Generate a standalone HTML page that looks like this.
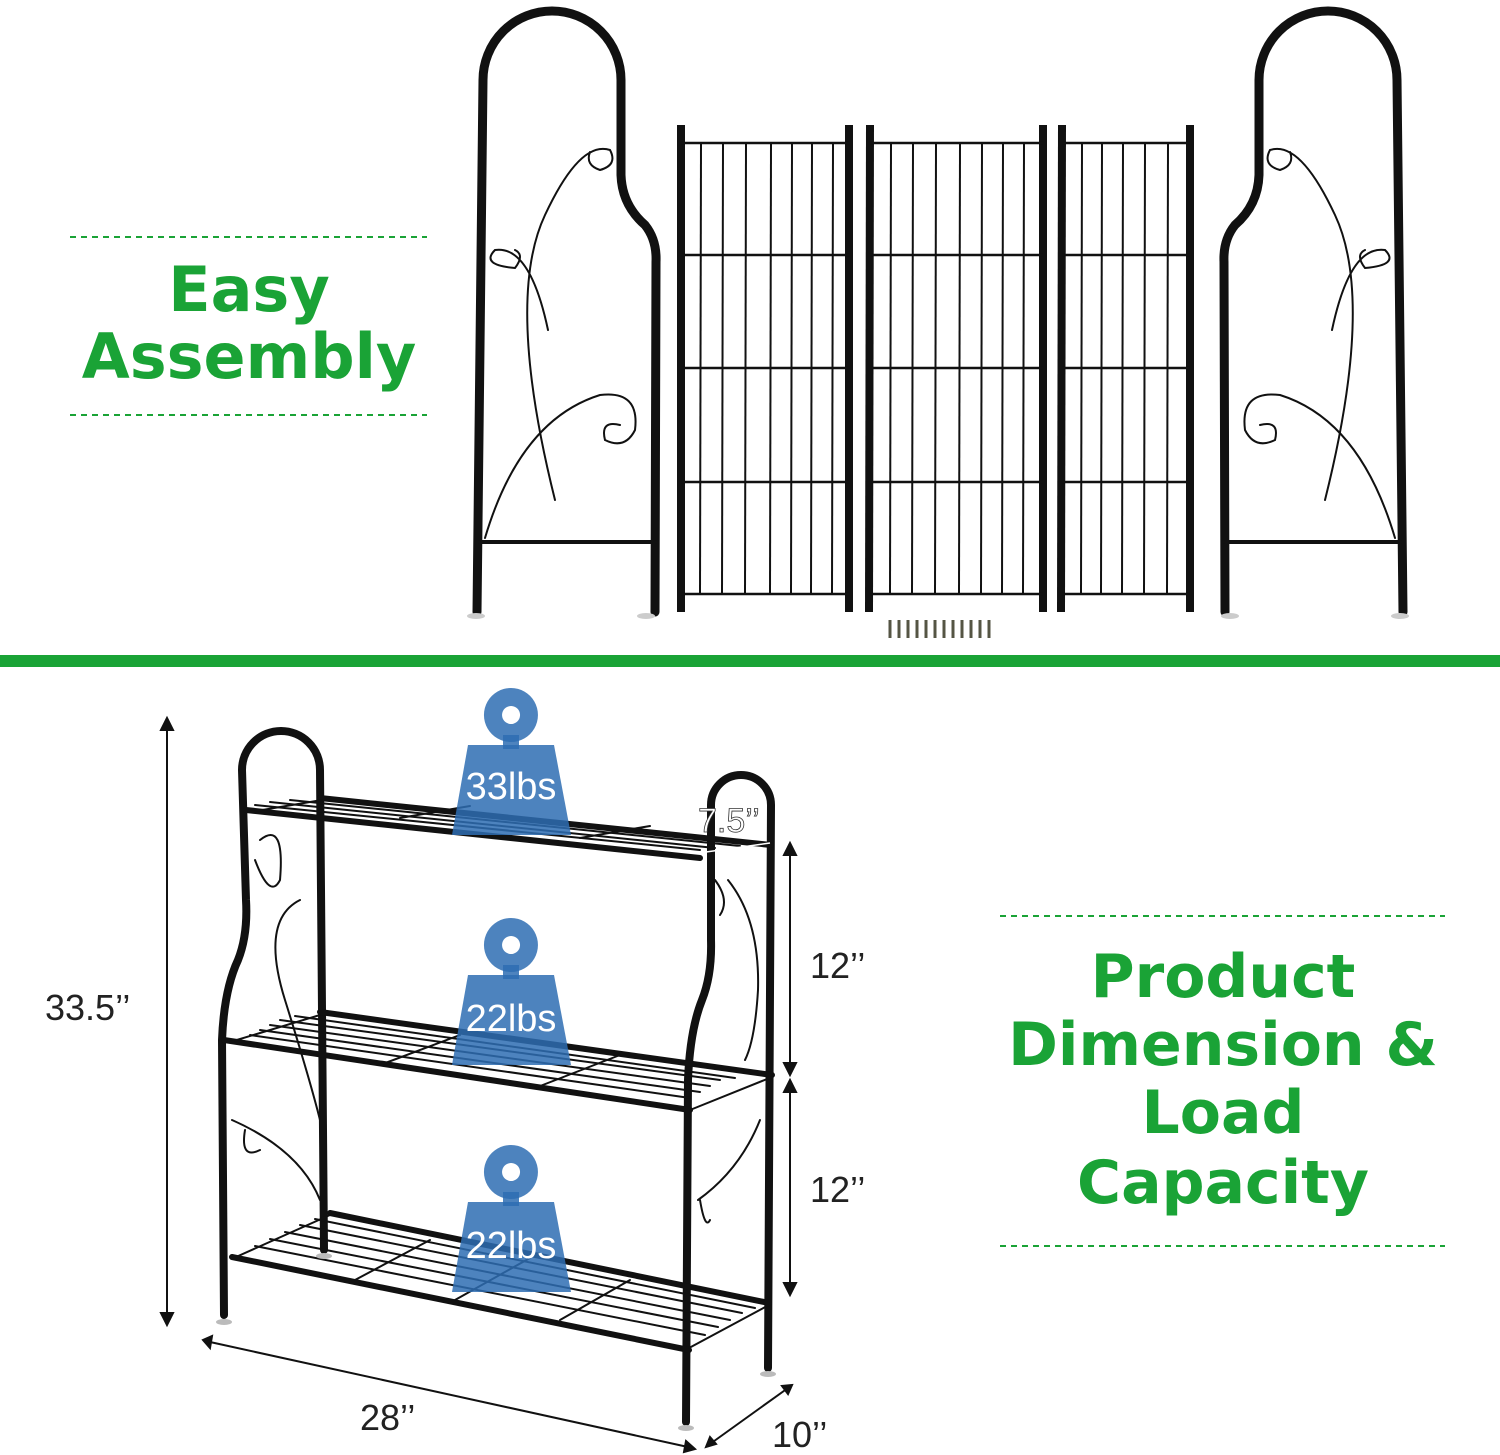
<!DOCTYPE html>
<html><head><meta charset="utf-8"><style>
html,body{margin:0;padding:0;background:#fff;}
svg{display:block;}
</style></head><body>
<svg width="1500" height="1455" viewBox="0 0 1500 1455" xmlns="http://www.w3.org/2000/svg">
<rect width="1500" height="1455" fill="#fff"/>
<rect x="0" y="655" width="1500" height="12" fill="#1aa336"/>
<line x1="70" y1="237" x2="427" y2="237" stroke="#1aa336" stroke-width="2" stroke-dasharray="6,5"/>
<line x1="70" y1="415" x2="427" y2="415" stroke="#1aa336" stroke-width="2" stroke-dasharray="6,5"/>
<g font-family="'DejaVu Sans','Liberation Sans',sans-serif" font-weight="bold" fill="#1aa336" text-anchor="middle">
<text x="249" y="311" font-size="62">Easy</text>
<text x="249" y="378" font-size="62">Assembly</text>
<text x="1223" y="997" font-size="60">Product</text>
<text x="1223" y="1065" font-size="60">Dimension &amp;</text>
<text x="1223" y="1133" font-size="60">Load</text>
<text x="1223" y="1203" font-size="60">Capacity</text>
</g>
<line x1="1000" y1="916" x2="1445" y2="916" stroke="#1aa336" stroke-width="2" stroke-dasharray="6,5"/>
<line x1="1000" y1="1246" x2="1445" y2="1246" stroke="#1aa336" stroke-width="2" stroke-dasharray="6,5"/>

<g fill="none" stroke="#111" stroke-linecap="round">
<path d="M477 612 L483 80 A69 69 0 0 1 621 80 L621 175 Q622 205 645 225 Q657 240 656 262 L655 612" stroke-width="9"/>
<line x1="480" y1="542" x2="655" y2="542" stroke-width="4"/>
<path d="M485 538 Q520 420 600 395 Q640 390 635 430 Q625 450 605 440 Q600 420 620 425" stroke-width="2"/>
<path d="M555 500 Q505 300 545 215 Q580 140 610 150 Q618 165 600 170 Q585 165 590 152 M548 330 Q530 245 495 250 Q480 265 515 268 Q525 255 515 250" stroke-width="2"/>
<path d="M1403 612 L1397 80 A69 69 0 0 0 1259 80 L1259 175 Q1258 205 1235 225 Q1223 240 1224 262 L1225 612" stroke-width="9"/>
<line x1="1400" y1="542" x2="1225" y2="542" stroke-width="4"/>
<path d="M1395 538 Q1360 420 1280 395 Q1240 390 1245 430 Q1255 450 1275 440 Q1280 420 1260 425" stroke-width="2"/>
<path d="M1325 500 Q1375 300 1335 215 Q1300 140 1270 150 Q1262 165 1280 170 Q1295 165 1290 152 M1332 330 Q1350 245 1385 250 Q1400 265 1365 268 Q1355 255 1365 250" stroke-width="2"/>
</g>
<g fill="#ccc"><ellipse cx="476" cy="616" rx="9" ry="3"/><ellipse cx="646" cy="616" rx="9" ry="3"/><ellipse cx="1230" cy="616" rx="9" ry="3"/><ellipse cx="1400" cy="616" rx="9" ry="3"/></g>

<g stroke="#111" fill="none">
<g>
<line x1="681" y1="125" x2="681" y2="612" stroke-width="8"/>
<line x1="849" y1="125" x2="849" y2="612" stroke-width="8"/>
<g stroke-width="2.5"><line x1="681" y1="143" x2="849" y2="143"/><line x1="681" y1="255" x2="849" y2="255"/><line x1="681" y1="368" x2="849" y2="368"/><line x1="681" y1="482" x2="849" y2="482"/><line x1="681" y1="594" x2="849" y2="594"/></g>
<g stroke-width="2"><line x1="701" y1="143" x2="700" y2="594"/><line x1="723" y1="143" x2="722" y2="594"/><line x1="746" y1="143" x2="745" y2="594"/><line x1="771" y1="143" x2="770" y2="594"/><line x1="792" y1="143" x2="791" y2="594"/><line x1="812" y1="143" x2="811" y2="594"/><line x1="833" y1="143" x2="832" y2="594"/></g>
</g>
<g>
<line x1="870" y1="125" x2="869" y2="612" stroke-width="8"/>
<line x1="1043" y1="125" x2="1043" y2="612" stroke-width="8"/>
<g stroke-width="2.5"><line x1="870" y1="143" x2="1043" y2="143"/><line x1="870" y1="255" x2="1043" y2="255"/><line x1="870" y1="368" x2="1043" y2="368"/><line x1="870" y1="482" x2="1043" y2="482"/><line x1="870" y1="594" x2="1043" y2="594"/></g>
<g stroke-width="2"><line x1="891" y1="143" x2="890" y2="594"/><line x1="913" y1="143" x2="912" y2="594"/><line x1="936" y1="143" x2="935" y2="594"/><line x1="960" y1="143" x2="959" y2="594"/><line x1="982" y1="143" x2="981" y2="594"/><line x1="1003" y1="143" x2="1002" y2="594"/><line x1="1024" y1="143" x2="1023" y2="594"/></g>
</g>
<g>
<line x1="1062" y1="125" x2="1061" y2="612" stroke-width="8"/>
<line x1="1190" y1="125" x2="1190" y2="612" stroke-width="8"/>
<g stroke-width="2.5"><line x1="1062" y1="143" x2="1190" y2="143"/><line x1="1062" y1="255" x2="1190" y2="255"/><line x1="1062" y1="368" x2="1190" y2="368"/><line x1="1062" y1="482" x2="1190" y2="482"/><line x1="1062" y1="594" x2="1190" y2="594"/></g>
<g stroke-width="2"><line x1="1082" y1="143" x2="1081" y2="594"/><line x1="1102" y1="143" x2="1101" y2="594"/><line x1="1123" y1="143" x2="1122" y2="594"/><line x1="1145" y1="143" x2="1144" y2="594"/><line x1="1168" y1="143" x2="1167" y2="594"/></g>
</g>
</g>
<g stroke="#554" stroke-width="3">
<line x1="890" y1="620" x2="890" y2="638"/><line x1="899" y1="620" x2="899" y2="638"/><line x1="908" y1="620" x2="908" y2="638"/><line x1="917" y1="620" x2="917" y2="638"/><line x1="926" y1="620" x2="926" y2="638"/><line x1="935" y1="620" x2="935" y2="638"/><line x1="944" y1="620" x2="944" y2="638"/><line x1="953" y1="620" x2="953" y2="638"/><line x1="962" y1="620" x2="962" y2="638"/><line x1="971" y1="620" x2="971" y2="638"/><line x1="980" y1="620" x2="980" y2="638"/><line x1="989" y1="620" x2="989" y2="638"/>
</g>

<!-- bottom: shelf -->
<g fill="none" stroke="#111" stroke-linecap="round">
<path d="M224 1315 L222 1040 Q224 990 238 960 Q248 935 246 900 L242 770 A39 39 0 0 1 320 770 L324 1250" stroke-width="8"/>
<path d="M686 1422 L688 1080 Q690 1030 702 1000 Q712 975 711 940 L711 805 A30 30 0 0 1 771 805 L768 1368" stroke-width="8"/>
<g stroke-width="6">
<line x1="246" y1="810" x2="700" y2="858"/><line x1="320" y1="798" x2="771" y2="845"/>
<line x1="224" y1="1040" x2="690" y2="1110"/><line x1="320" y1="1012" x2="772" y2="1075"/>
<line x1="232" y1="1257" x2="689" y2="1350"/><line x1="330" y1="1213" x2="769" y2="1303"/>
</g>
<g stroke-width="2">
<line x1="250" y1="812" x2="322" y2="800"/><line x1="400" y1="818" x2="470" y2="806"/><line x1="580" y1="838" x2="650" y2="826"/>
<line x1="230" y1="1042" x2="320" y2="1015"/><line x1="380" y1="1065" x2="460" y2="1035"/><line x1="535" y1="1088" x2="620" y2="1055"/><line x1="690" y1="1110" x2="772" y2="1077"/>
<path d="M250 1035 L690 1098 M260 1030 L700 1092 M270 1025 L710 1086 M280 1020 L720 1080 M295 1016 L735 1078"/>
<line x1="236" y1="1257" x2="330" y2="1215"/><line x1="355" y1="1280" x2="430" y2="1240"/><line x1="455" y1="1300" x2="530" y2="1258"/><line x1="560" y1="1320" x2="630" y2="1280"/><line x1="689" y1="1348" x2="769" y2="1305"/>
<path d="M255 1246 L705 1335 M270 1239 L718 1327 M285 1232 L730 1320 M300 1225 L742 1313 M315 1219 L755 1308"/>
<path d="M255 805 L700 850 M270 802 L715 848 M290 800 L740 846"/>
<path d="M232 1120 Q300 1150 320 1200 M300 900 Q260 920 285 1000 Q310 1080 320 1120 M260 840 Q285 820 280 880 Q270 900 255 860 M245 1130 Q240 1160 260 1150"/>
<path d="M698 1200 Q740 1170 760 1120 M728 880 Q760 920 758 990 Q755 1040 745 1060 M715 880 Q730 900 720 915 M700 1200 Q705 1230 710 1220"/>
</g>
</g>
<g fill="#bbb"><ellipse cx="224" cy="1322" rx="8" ry="3"/><ellipse cx="324" cy="1256" rx="8" ry="3"/><ellipse cx="686" cy="1428" rx="8" ry="3"/><ellipse cx="768" cy="1374" rx="8" ry="3"/></g>

<g fill="#2e6db3" fill-opacity="0.85">
<path d="M511 688 a27 27 0 1 1 -0.1 0 Z M511 706 a9 9 0 1 0 0.1 0 Z" fill-rule="evenodd"/>
<rect x="503" y="735" width="16" height="14"/>
<path d="M468 745 L554 745 L571 835 L452 835 Z"/>
<path d="M511 918 a27 27 0 1 1 -0.1 0 Z M511 936 a9 9 0 1 0 0.1 0 Z" fill-rule="evenodd"/>
<rect x="503" y="965" width="16" height="14"/>
<path d="M468 975 L554 975 L571 1065 L452 1065 Z"/>
<path d="M511 1145 a27 27 0 1 1 -0.1 0 Z M511 1163 a9 9 0 1 0 0.1 0 Z" fill-rule="evenodd"/>
<rect x="503" y="1192" width="16" height="14"/>
<path d="M468 1202 L554 1202 L571 1292 L452 1292 Z"/>
</g>
<g font-family="'Liberation Sans','DejaVu Sans',sans-serif" fill="#fff" font-size="38" text-anchor="middle">
<text x="511" y="799">33lbs</text>
<text x="511" y="1031">22lbs</text>
<text x="511" y="1258">22lbs</text>
</g>

<g stroke="#111" stroke-width="2" fill="#111">
<line x1="167" y1="725" x2="167" y2="1318"/>
<path d="M161 730 L167 718 L173 730 Z M161 1313 L167 1325 L173 1313 Z"/>
<line x1="790" y1="850" x2="790" y2="1068"/>
<path d="M784 855 L790 843 L796 855 Z M784 1063 L790 1075 L796 1063 Z"/>
<line x1="790" y1="1087" x2="790" y2="1288"/>
<path d="M784 1092 L790 1080 L796 1092 Z M784 1283 L790 1295 L796 1283 Z"/>
<line x1="210" y1="1342" x2="688" y2="1447"/>
<path d="M212 1336 L203 1340 L210 1348 Z M686 1441 L695 1449 L684 1452 Z"/>
<line x1="710" y1="1444" x2="788" y2="1388"/>
<path d="M706 1447 L710 1437 L716 1444 Z M792 1385 L782 1386 L788 1394 Z"/>
<line x1="706" y1="852" x2="770" y2="843" stroke="#fff" stroke-width="1.5"/>
</g>
<g font-family="'Liberation Sans','DejaVu Sans',sans-serif" fill="#222" font-size="36">
<text x="45" y="1020">33.5’’</text>
<text x="810" y="978">12’’</text>
<text x="810" y="1202">12’’</text>
<text x="360" y="1430">28’’</text>
<text x="772" y="1447">10’’</text>
<text x="698" y="832" fill="#fff" stroke="#333" stroke-width="0.8" font-size="34">7.5’’</text>
</g>
</svg>
</body></html>
